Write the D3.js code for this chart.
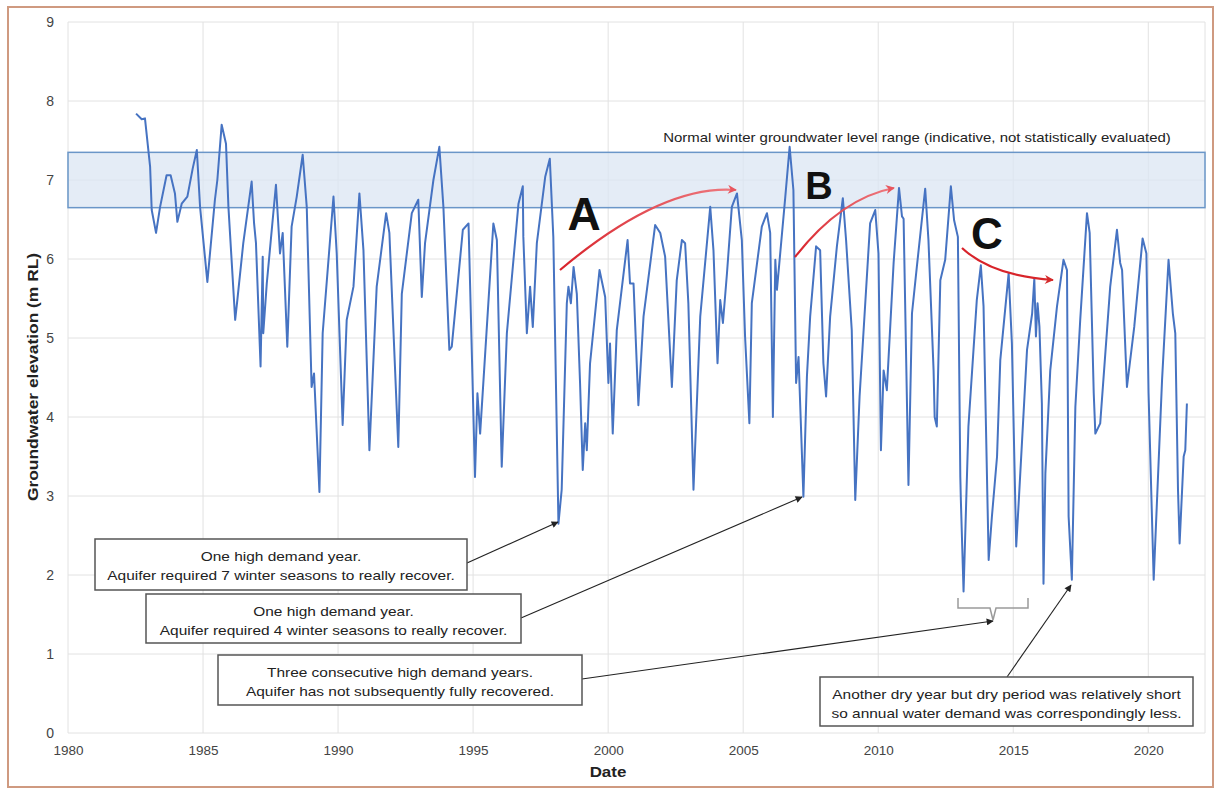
<!DOCTYPE html>
<html><head><meta charset="utf-8">
<script src="https://cdn.jsdelivr.net/npm/d3@7"></script>
<style>
html,body{margin:0;padding:0;background:#fff;}
text{font-family:Arial,"Liberation Sans",sans-serif;}
</style></head>
<body><svg id="c" width="1216" height="789"></svg>
<script>
// ---- data (decimal year, groundwater elevation m RL) ----
const years = [1982.52,1982.73,1982.85,1983.04,1983.1,1983.26,1983.41,1983.65,1983.8,1983.96,1984.05,1984.21,1984.42,1984.62,1984.77,1984.89,1985.16,1985.44,1985.53,1985.69,1985.85,1985.94,1986.19,1986.27,1986.49,1986.8,1986.89,1986.96,1987.13,1987.21,1987.23,1987.36,1987.7,1987.85,1987.95,1988.12,1988.28,1988.47,1988.69,1988.84,1989.02,1989.11,1989.31,1989.43,1989.83,1989.95,1990.17,1990.32,1990.57,1990.79,1990.94,1991.16,1991.43,1991.78,1991.9,1992.23,1992.36,1992.73,1992.97,1993.1,1993.22,1993.53,1993.75,1993.9,1994.12,1994.21,1994.62,1994.83,1995.07,1995.16,1995.26,1995.75,1995.88,1996.06,1996.25,1996.68,1996.84,1996.86,1996.99,1997.11,1997.21,1997.36,1997.67,1997.84,1997.97,1998.16,1998.28,1998.47,1998.53,1998.62,1998.72,1998.84,1998.96,1999.06,1999.15,1999.21,1999.33,1999.68,1999.89,2000.01,2000.07,2000.17,2000.32,2000.72,2000.81,2000.94,2001.12,2001.31,2001.74,2001.93,2002.11,2002.36,2002.54,2002.73,2002.85,2002.97,2003.16,2003.41,2003.78,2003.9,2004.05,2004.15,2004.25,2004.4,2004.58,2004.77,2004.95,2005.07,2005.23,2005.32,2005.69,2005.88,2006.0,2006.1,2006.19,2006.25,2006.56,2006.72,2006.86,2006.96,2007.05,2007.23,2007.36,2007.48,2007.7,2007.85,2007.97,2008.07,2008.22,2008.47,2008.69,2008.81,2009.02,2009.15,2009.31,2009.7,2009.89,2010.01,2010.1,2010.2,2010.32,2010.57,2010.77,2010.88,2010.94,2011.12,2011.25,2011.43,2011.74,2011.86,2012.05,2012.09,2012.17,2012.3,2012.48,2012.69,2012.81,2012.95,2013.04,2013.06,2013.16,2013.34,2013.65,2013.8,2013.9,2014.09,2014.21,2014.4,2014.52,2014.83,2014.95,2015.11,2015.2,2015.51,2015.7,2015.78,2015.84,2015.9,2015.97,2016.06,2016.12,2016.19,2016.37,2016.62,2016.86,2016.99,2017.05,2017.17,2017.3,2017.48,2017.73,2017.83,2017.98,2018.04,2018.22,2018.59,2018.84,2018.96,2019.03,2019.21,2019.48,2019.79,2019.93,2020.01,2020.2,2020.51,2020.75,2020.91,2021.0,2021.1,2021.16,2021.31,2021.37,2021.43];
const levels = [7.84,7.77,7.78,7.17,6.62,6.33,6.66,7.06,7.06,6.83,6.47,6.70,6.79,7.15,7.38,6.66,5.71,6.75,7.0,7.70,7.46,6.66,5.23,5.48,6.20,6.98,6.45,6.20,4.64,6.03,5.06,5.69,6.94,6.07,6.33,4.89,6.41,6.79,7.32,6.66,4.38,4.55,3.05,5.06,6.79,6.07,3.90,5.23,5.65,6.83,6.11,3.58,5.65,6.58,6.33,3.62,5.56,6.58,6.75,5.52,6.20,7.0,7.42,6.66,4.85,4.89,6.37,6.45,3.24,4.30,3.79,6.45,6.24,3.37,5.06,6.70,6.92,6.28,5.06,5.65,5.14,6.20,7.04,7.27,6.28,2.65,3.08,5.44,5.65,5.44,5.90,5.56,4.43,3.33,3.92,3.58,4.68,5.86,5.52,4.43,4.93,3.79,5.10,6.24,5.69,5.69,4.15,5.27,6.43,6.33,6.03,4.38,5.73,6.24,6.20,5.44,3.08,5.27,6.66,6.11,4.68,5.48,5.19,5.82,6.66,6.83,6.24,5.02,3.92,5.44,6.41,6.58,6.33,4.0,5.99,5.61,6.79,7.42,6.87,4.43,4.76,2.99,4.51,5.27,6.16,6.11,4.68,4.26,5.27,6.16,6.77,6.24,5.10,2.95,4.26,6.45,6.62,6.07,3.58,4.59,4.34,5.95,6.90,6.54,6.51,3.14,5.31,5.90,6.89,6.24,4.59,4.0,3.88,5.73,5.99,6.92,6.49,6.28,3.24,2.95,1.79,3.88,5.48,5.92,5.40,2.19,2.74,3.50,4.72,5.82,4.93,2.36,2.91,4.85,5.31,5.75,5.02,5.44,5.14,4.17,1.89,3.29,4.59,5.40,5.99,5.86,2.74,1.94,4.13,5.23,6.58,6.33,4.30,3.79,3.92,5.65,6.37,5.95,5.86,4.38,5.14,6.26,6.07,4.30,1.94,4.47,5.99,5.31,5.06,3.08,2.40,3.50,3.58,4.17];
const xTicks = [1980,1985,1990,1995,2000,2005,2010,2015,2020];
const yTicks = [0,1,2,3,4,5,6,7,8,9];
const bandRange = [6.65, 7.35];
const bandLabel = "Normal winter groundwater level range (indicative, not statistically evaluated)";
const noteLines = [
  ["One high demand year.","Aquifer required 7 winter seasons to really recover."],
  ["One high demand year.","Aquifer required 4 winter seasons to really recover."],
  ["Three consecutive high demand years.","Aquifer has not subsequently fully recovered."],
  ["Another dry year but dry period was relatively short","so annual water demand was correspondingly less."]
];
const recoveryLetters = ["A","B","C"];

// ---- layout ----
const svg = d3.select("#c");
const x = d3.scaleLinear().domain([1980, 2022.1]).range([68, 1205]);
const y = d3.scaleLinear().domain([0, 9]).range([733, 22]);

// helper: text stretched along its baseline
function wideText(cx, cy, str, size, sx, opts={}) {
  const t = svg.append("text")
    .attr("transform", `translate(${cx},${cy}) ${opts.rotate?`rotate(${opts.rotate})`:""} scale(${sx},1)`)
    .attr("text-anchor","middle").attr("font-size",size).attr("fill",opts.fill||"#222").text(str);
  if (opts.bold) t.attr("font-weight","bold");
  return t;
}

// outer frame
svg.append("rect").attr("x",8).attr("y",7).attr("width",1205).attr("height",780)
  .attr("fill","#fff").attr("stroke","#cf9a80").attr("stroke-width",2);

// grid
const g = svg.append("g");
g.selectAll(".hg").data(yTicks).join("line")
  .attr("x1",x(1980)).attr("x2",x(2022.1)).attr("y1",d=>y(d)).attr("y2",d=>y(d))
  .attr("stroke","#e2e2e2").attr("stroke-width",1);
g.selectAll(".vg").data(xTicks.concat([2022.1])).join("line")
  .attr("x1",d=>x(d)).attr("x2",d=>x(d)).attr("y1",y(0)).attr("y2",y(9))
  .attr("stroke","#e2e2e2").attr("stroke-width",1);

// band
svg.append("rect").attr("x",x(1980)).attr("width",x(2022.1)-x(1980))
  .attr("y",y(bandRange[1])).attr("height",y(bandRange[0])-y(bandRange[1]))
  .attr("fill","#dbe5f3").attr("fill-opacity",0.75)
  .attr("stroke","#6a96c8").attr("stroke-width",1.5);
wideText(917, 142, bandLabel, 13.6, 1.1);

// axes
const ax = svg.append("g").attr("transform",`translate(0,${y(0)})`)
  .call(d3.axisBottom(x).tickValues(xTicks).tickFormat(d3.format("d")).tickSize(0).tickPadding(12));
ax.select(".domain").remove();
ax.selectAll("text").attr("font-size",13.5).attr("fill","#444").attr("font-family","Arial,'Liberation Sans',sans-serif");
const ay = svg.append("g").attr("transform",`translate(${x(1980)},0)`)
  .call(d3.axisLeft(y).tickValues(yTicks).tickSize(0).tickPadding(14));
ay.select(".domain").remove();
ay.selectAll("text").attr("font-size",14).attr("fill","#444").attr("font-family","Arial,'Liberation Sans',sans-serif");

wideText(608, 777, "Date", 15, 1.13, {bold:true});
wideText(38, 377, "Groundwater elevation (m RL)", 14.5, 1.2, {bold:true, rotate:-90});

// series line
const pts = years.map((d,i)=>[d, levels[i]]);
svg.append("path").datum(pts)
  .attr("d", d3.line().x(d=>x(d[0])).y(d=>y(d[1])))
  .attr("fill","none").attr("stroke","#4673c2").attr("stroke-width",2).attr("stroke-linejoin","round");

// markers
const defs = svg.append("defs");
defs.append("marker").attr("id","ah").attr("viewBox","0 0 10 10").attr("refX",9).attr("refY",5)
  .attr("markerWidth",9).attr("markerHeight",7).attr("markerUnits","userSpaceOnUse").attr("orient","auto")
  .append("path").attr("d","M0,0L10,5L0,10z").attr("fill","#222");
defs.append("marker").attr("id","rh").attr("viewBox","0 0 10 10").attr("refX",9).attr("refY",5)
  .attr("markerWidth",12).attr("markerHeight",9).attr("markerUnits","userSpaceOnUse").attr("orient","auto")
  .append("path").attr("d","M0,0L10,5L0,10L3,5z").attr("fill","#e8565e");
defs.append("marker").attr("id","rh2").attr("viewBox","0 0 10 10").attr("refX",9).attr("refY",5)
  .attr("markerWidth",12).attr("markerHeight",9).attr("markerUnits","userSpaceOnUse").attr("orient","auto")
  .append("path").attr("d","M0,0L10,5L0,10L3,5z").attr("fill","#d42a2a");

// red recovery arrows
const redArrows = [
  {p0:[560,270], c:[662,184], p1:[736,190], m:"rh"},
  {p0:[795,257], c:[841,198], p1:[894,188], m:"rh"},
  {p0:[962,248], c:[992,276], p1:[1053,280], m:"rh2"}
];
redArrows.forEach((a,i)=>{
  const gid="rg"+i;
  const lg = defs.append("linearGradient").attr("id",gid).attr("gradientUnits","userSpaceOnUse")
    .attr("x1",a.p0[0]).attr("y1",a.p0[1]).attr("x2",a.p1[0]).attr("y2",a.p1[1]);
  lg.append("stop").attr("offset","0").attr("stop-color","#d8222a");
  lg.append("stop").attr("offset","1").attr("stop-color", i<2 ? "#ee7a80" : "#d8262a");
  svg.append("path").attr("d",`M${a.p0}Q${a.c} ${a.p1}`).attr("fill","none")
    .attr("stroke",`url(#${gid})`).attr("stroke-width",2.2).attr("marker-end",`url(#${a.m})`);
});
const letterPos = [[584,230,46],[819,199,38],[987,249,44]];
recoveryLetters.forEach((l,i)=>{
  svg.append("text").attr("x",letterPos[i][0]).attr("y",letterPos[i][1]).attr("text-anchor","middle")
    .attr("font-size",letterPos[i][2]).attr("font-weight","bold").attr("fill","#111").text(l);
});

// bracket
svg.append("path").attr("d","M958,598L958,608L990,608L993,620L996,608L1028,608L1028,598")
  .attr("fill","none").attr("stroke","#9a9a9a").attr("stroke-width",1.5);

// black pointer arrows
const pointers = [
  [[467,563],[558,522]],
  [[521,618],[802,497]],
  [[582,679],[993,621]],
  [[1007,677],[1071,585]]
];
pointers.forEach(p=>{
  svg.append("line").attr("x1",p[0][0]).attr("y1",p[0][1]).attr("x2",p[1][0]).attr("y2",p[1][1])
    .attr("stroke","#222").attr("stroke-width",1.1).attr("marker-end","url(#ah)");
});

// note boxes
const boxes = [
  {x:95,y:539,w:372,h:51},
  {x:146,y:594,w:375,h:49},
  {x:218,y:655,w:364,h:50},
  {x:820,y:677,w:373,h:49}
];
boxes.forEach((b,i)=>{
  svg.append("rect").attr("x",b.x).attr("y",b.y).attr("width",b.w).attr("height",b.h)
    .attr("fill","#fff").attr("stroke","#555").attr("stroke-width",1.5);
  noteLines[i].forEach((t,j)=>{
    wideText(b.x+b.w/2, b.y+22+j*18.5, t, 13.2, 1.17);
  });
});
</script></body></html>
